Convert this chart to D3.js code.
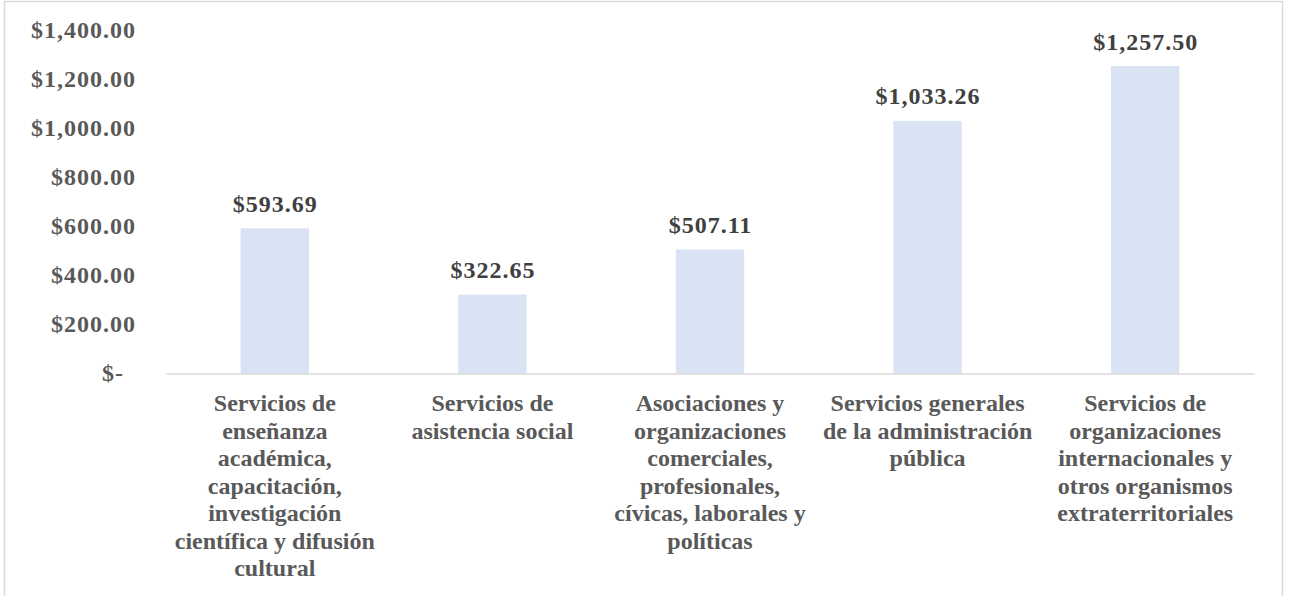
<!DOCTYPE html>
<html>
<head>
<meta charset="utf-8">
<script src="https://cdn.jsdelivr.net/npm/d3@7"></script>
<style>
  html, body { margin: 0; padding: 0; background: #fff; overflow: hidden; }
</style>
</head>
<body>
<div id="chart-container"></div>
<script>
// Categories and values
const categories = [
    "Servicios de enseñanza académica, capacitación, investigación científica y difusión cultural",
    "Servicios de asistencia social",
    "Asociaciones y organizaciones comerciales, profesionales, cívicas, laborales y políticas",
    "Servicios generales de la administración pública",
    "Servicios de organizaciones internacionales y otros organismos extraterritoriales"
];
const values = [593.69, 322.65, 507.11, 1033.26, 1257.50];
const yTicks = [0, 200, 400, 600, 800, 1000, 1200, 1400];

const data = categories.map((c, i) => ({ category: c, value: values[i] }));

// Plot area
const W = 1289, H = 596;
const margin = { top: 31.2, left: 166, right: 35, bottom: 222.5 };
const width = W - margin.left - margin.right;
const height = H - margin.top - margin.bottom;

const svg = d3.select("#chart-container")
    .append("svg")
    .attr("width", W)
    .attr("height", H);

// chart border
svg.append("rect")
    .attr("x", 4.5)
    .attr("y", 1.5)
    .attr("width", 1278)
    .attr("height", 640)
    .attr("fill", "none")
    .attr("stroke", "#d9d9d9")
    .attr("stroke-width", 1.5);

const g = svg.append("g")
    .attr("transform", "translate(" + margin.left + "," + margin.top + ")");

const xScale = d3.scaleBand()
    .domain(categories)
    .range([0, width])
    .paddingInner(0.686)
    .paddingOuter(0.343);

const yScale = d3.scaleLinear()
    .domain([0, 1400])
    .range([height, 0]);

const font = "'Liberation Serif', 'Times New Roman', serif";

// format like Excel accounting
const fmt = d => d === 0 ? "$-" : "$" + d3.format(",.2f")(d);

// Y axis labels (no line)
const yAxis = d3.axisLeft(yScale)
    .tickValues(yTicks)
    .tickSize(0)
    .tickPadding(30)
    .tickFormat(fmt);

const yG = g.append("g").call(yAxis);
yG.select(".domain").remove();
yG.selectAll("text")
    .attr("dy", "0.28em")
    .attr("dx", d => d === 0 ? -12 : 0)
    .style("font-family", font)
    .style("font-weight", "bold")
    .style("font-size", "24px")
    .style("letter-spacing", "1px")
    .style("fill", "#595959");

// Bars
g.selectAll("rect.bar")
    .data(data)
    .enter()
    .append("rect")
    .attr("class", "bar")
    .attr("x", d => xScale(d.category))
    .attr("y", d => yScale(d.value))
    .attr("width", xScale.bandwidth())
    .attr("height", d => height - yScale(d.value))
    .attr("fill", "#dae3f3");

// X axis line
const xAxis = d3.axisBottom(xScale).tickSize(0).tickFormat("");
const xG = g.append("g")
    .attr("transform", "translate(0," + height + ")")
    .call(xAxis);
xG.select(".domain")
    .attr("stroke", "#d9d9d9")
    .attr("stroke-width", 1.5);

// Value labels
g.selectAll("text.value")
    .data(data)
    .enter()
    .append("text")
    .attr("class", "value")
    .attr("x", d => xScale(d.category) + xScale.bandwidth() / 2 + 0.5)
    .attr("y", d => yScale(d.value) - 16.5)
    .attr("text-anchor", "middle")
    .style("font-family", font)
    .style("font-weight", "bold")
    .style("font-size", "24px")
    .style("letter-spacing", "1px")
    .style("fill", "#404040")
    .text(d => fmt(d.value));

// Category labels, wrapped
const labels = g.selectAll("text.cat")
    .data(data)
    .enter()
    .append("text")
    .attr("class", "cat")
    .attr("x", d => xScale(d.category) + xScale.bandwidth() / 2)
    .attr("y", height + 38)
    .attr("text-anchor", "middle")
    .style("font-family", font)
    .style("font-weight", "bold")
    .style("font-size", "24px")
    .style("fill", "#595959");

labels.each(function(d) {
    const text = d3.select(this);
    const x = text.attr("x");
    const words = d.category.split(" ");
    let line = [];
    let tspan = text.append("tspan").attr("x", x).attr("dy", 0);
    words.forEach(w => {
        line.push(w);
        tspan.text(line.join(" "));
        if (tspan.node().getComputedTextLength() > 216 && line.length > 1) {
            line.pop();
            tspan.text(line.join(" "));
            line = [w];
            tspan = text.append("tspan").attr("x", x).attr("dy", 27.5).text(w);
        }
    });
});
</script>
</body>
</html>
